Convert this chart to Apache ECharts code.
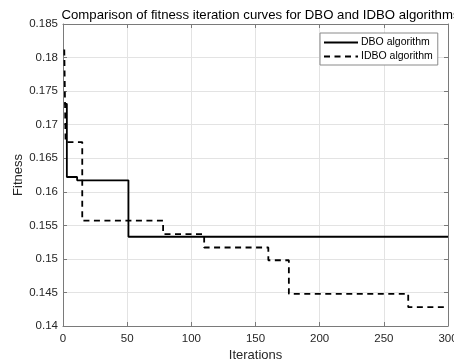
<!DOCTYPE html>
<html><head><meta charset="utf-8">
<script src="https://cdn.jsdelivr.net/npm/echarts@6/dist/echarts.min.js"></script>
<style>html,body{margin:0;padding:0;background:#fff}#c{width:454px;height:363px}</style>
</head><body><div id="c"></div>
<script>
const titleText = 'Comparison of fitness iteration curves for DBO and IDBO algorithms';
const xTicks = [0, 50, 100, 150, 200, 250, 300];
const yTicks = [0.14, 0.145, 0.15, 0.155, 0.16, 0.165, 0.17, 0.175, 0.18, 0.185];
const dboIter = [1, 3, 11, 51, 300];
const dboVal = [0.1731, 0.1622, 0.1617, 0.1533, 0.1533];
const idboIter = [1, 2, 15, 78, 110, 160, 176, 269, 300];
const idboVal = [0.1812, 0.1674, 0.1557, 0.1537, 0.1517, 0.1498, 0.1448, 0.1428, 0.1428];

const font = 'Liberation Sans, Arial, sans-serif';
const axisColor = '#7a7a7a';
const textColor = '#262626';
const chart = echarts.init(document.getElementById('c'), null, {renderer: 'canvas'});
const fmtY = v => String(parseFloat(v.toFixed(3)));
const baseX = {
  type: 'value', min: xTicks[0], max: xTicks[xTicks.length - 1], interval: 50,
  axisLine: {show: true, onZero: false, lineStyle: {color: axisColor, width: 1}},
  axisTick: {show: true, inside: true, length: 4, lineStyle: {color: axisColor}},
  splitLine: {show: false}
};
const baseY = {
  type: 'value', min: yTicks[0], max: yTicks[yTicks.length - 1], interval: 0.005,
  axisLine: {show: true, onZero: false, lineStyle: {color: axisColor, width: 1}},
  axisTick: {show: true, inside: true, length: 4, lineStyle: {color: axisColor}},
  splitLine: {show: false}
};
chart.setOption({
  animation: false,
  backgroundColor: '#fff',
  title: {
    text: titleText, left: 255.5, textAlign: 'center', top: 4,
    textStyle: {fontFamily: font, fontSize: 13.2, fontWeight: 'normal', color: '#000'}
  },
  grid: {left: 63, right: 6, top: 24, bottom: 37, outerBoundsMode: 'none', containLabel: false},
  legend: {
    show: true, left: 320, top: 33, orient: 'vertical', itemWidth: 34, itemHeight: 10, itemGap: 3,
    backgroundColor: '#fff', borderColor: '#8a8a8a', borderWidth: 1, padding: [4, 5, 3, 3],
    itemStyle: {opacity: 0},
    textStyle: {fontFamily: font, fontSize: 10.5, color: '#000', padding: [0, 0, 0, -2]},
    data: ['DBO algorithm', 'IDBO algorithm']
  },
  xAxis: [
    Object.assign({}, baseX, {
      position: 'bottom', name: 'Iterations', nameLocation: 'middle', nameGap: 23,
      nameMoveOverlap: false,
      nameTextStyle: {fontFamily: font, fontSize: 13, color: textColor},
      axisLabel: {fontFamily: font, fontSize: 11.5, color: textColor, margin: 7},
      splitLine: {show: true, lineStyle: {color: '#e3e3e3', width: 1}}
    }),
    Object.assign({}, baseX, {position: 'top', axisLabel: {show: false}})
  ],
  yAxis: [
    Object.assign({}, baseY, {
      position: 'left', name: 'Fitness', nameLocation: 'middle', nameGap: 38,
      nameMoveOverlap: false,
      nameTextStyle: {fontFamily: font, fontSize: 13, color: textColor},
      axisLabel: {fontFamily: font, fontSize: 11.5, color: textColor, margin: 5, formatter: fmtY},
      splitLine: {show: true, lineStyle: {color: '#e3e3e3', width: 1}}
    }),
    Object.assign({}, baseY, {position: 'right', axisLabel: {show: false}})
  ],
  series: [
    {
      name: 'DBO algorithm', type: 'line', step: 'end', symbol: 'none',
      data: dboIter.map((x, i) => [x, dboVal[i]]),
      lineStyle: {color: '#000', width: 1.8, type: 'solid'},
      itemStyle: {color: '#000'}, z: 3
    },
    {
      name: 'IDBO algorithm', type: 'line', step: 'end', symbol: 'none',
      data: idboIter.map((x, i) => [x, idboVal[i]]),
      lineStyle: {color: '#000', width: 1.8, type: [6, 4.5]},
      itemStyle: {color: '#000'}, z: 2
    }
  ]
});
</script></body></html>
